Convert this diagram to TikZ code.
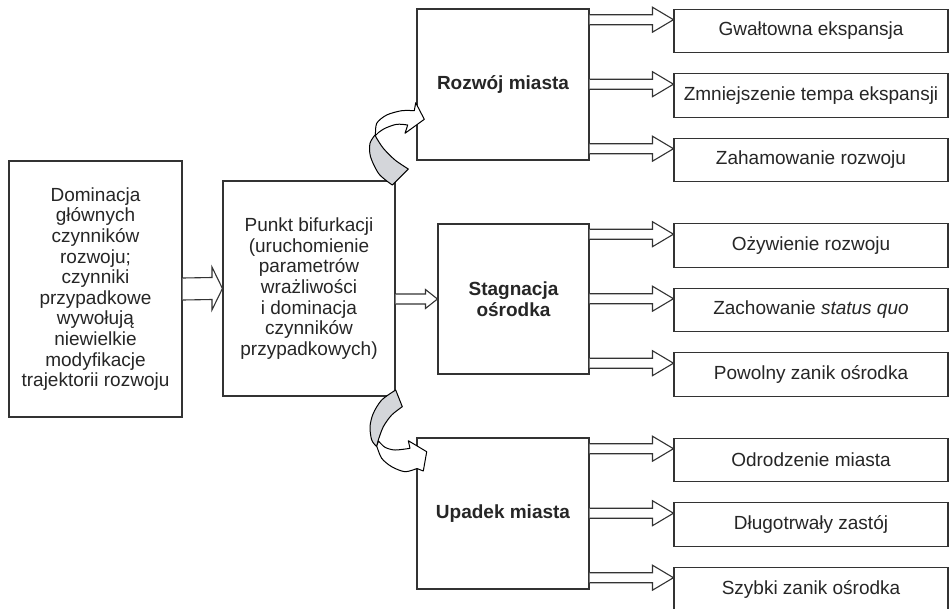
\documentclass[tikz,border=0pt]{standalone}
\usepackage{fontspec}
\setmainfont{Liberation Sans}
\usetikzlibrary{calc}
\definecolor{ribgray}{RGB}{212,214,218}
\newcommand{\hollowarrow}[5]{%
  \draw[hollow] ($(#1)+(0,-#4)$) -- ($(#2)+(-#3,-#4)$) -- ($(#2)+(-#3,-#5)$) -- (#2)
    -- ($(#2)+(-#3,#5)$) -- ($(#2)+(-#3,#4)$) -- ($(#1)+(0,#4)$);}
\newcommand{\outarrow}[2]{%
  \coordinate (tip) at ([yshift=-11pt]#2.north west);
  \hollowarrow{#1.east |- tip}{tip}{21}{5}{12.5}}
\begin{document}
\begin{tikzpicture}[x=1pt, y=-1pt,
    box/.style={draw=black!80, line width=1.1pt, fill=white, inner sep=2pt, align=center,
      text=black!85, font=\fontsize{19}{20.6}\selectfont},
    stage/.style={box, font=\fontsize{19}{20.6}\selectfont\bfseries},
    result/.style={box, minimum width=274pt, minimum height=43.5pt},
    hollow/.style={draw=black!80, line width=1.1pt, fill=white},
    ribbon/.style={draw=black, line width=1pt, line join=round}]
    \useasboundingbox (0,0) rectangle (949,608);

    \node[box, minimum width=173pt, minimum height=256pt] (left) at (95.5,289)
        {Dominacja\\głównych\\czynników\\rozwoju;\\czynniki\\przypadkowe\\wywołują\\niewielkie\\modyfikacje\\trajektorii rozwoju};
    \node[box, minimum width=172pt, minimum height=215pt] (bif) at (309,288.5)
        {Punkt bifurkacji\\(uruchomienie\\parametrów\\wrażliwości\\i dominacja\\czynników\\przypadkowych)};

    \node[stage, minimum width=172pt, minimum height=151pt] (rozwoj) at (503,84.5) {Rozwój miasta};
    \node[stage, minimum width=151pt, minimum height=150pt] (stag) at (513.5,299) {Stagnacja\\ośrodka};
    \node[stage, minimum width=172pt, minimum height=151pt] (upadek) at (503,513.5) {Upadek miasta};

    \node[result] (g1) at (811,31) {Gwałtowna ekspansja};
    \node[result] (g2) at (811,95.5) {Zmniejszenie tempa ekspansji};
    \node[result] (g3) at (811,160) {Zahamowanie rozwoju};
    \node[result] (s1) at (811,245.5) {Ożywienie rozwoju};
    \node[result] (s2) at (811,310) {Zachowanie \textit{status quo}};
    \node[result] (s3) at (811,374.5) {Powolny zanik ośrodka};
    \node[result] (u1) at (811,460) {Odrodzenie miasta};
    \node[result] (u2) at (811,524.5) {Długotrwały zastój};
    \node[result] (u3) at (811,589) {Szybki zanik ośrodka};

    \hollowarrow{left.east}{bif.west}{10.5}{11}{21.5}
    \hollowarrow{bif.east |- stag.west}{stag.west}{12}{5}{9.5}

    \outarrow{rozwoj}{g1}
    \outarrow{rozwoj}{g2}
    \outarrow{rozwoj}{g3}
    \outarrow{stag}{s1}
    \outarrow{stag}{s2}
    \outarrow{stag}{s3}
    \outarrow{upadek}{u1}
    \outarrow{upadek}{u2}
    \outarrow{upadek}{u3}

    \draw[ribbon, fill=ribgray] plot[smooth] coordinates {(375,135) (370,143.3) (370.5,156.7) (379,174) (392.3,185)}
        -- plot[smooth] coordinates {(408.3,169) (395,160) (383.3,148.3) (376.7,138.3)} -- cycle;
    \draw[ribbon, fill=white] plot[smooth] coordinates {(375.5,135.5) (376.7,123.3) (386.7,115) (401.7,110.7) (414.3,110.7)}
        -- (415.7,102.7) -- (424.3,119.3) -- (405,133.3)
        -- plot[smooth] coordinates {(407.7,125) (396.7,124.3) (385,128.3) (378.3,132.7)} -- cycle;

    \draw[ribbon, fill=ribgray] plot[smooth] coordinates {(395.7,390) (381.7,400) (373.3,413.3) (370,426.7) (371.7,440) (376.7,446.7)}
        -- plot[smooth] coordinates {(378.3,440) (383.3,426.7) (391.7,415) (402.3,406.7)} -- cycle;
    \draw[ribbon, fill=white] plot[smooth] coordinates {(376.7,446) (381.7,458.3) (391.7,466.7) (405,471.7) (417,468.5)}
        -- (423.3,471) -- (426.7,451.7) -- (408.3,440.7)
        -- plot[smooth] coordinates {(410,448.3) (395,450) (385,447.3) (378.5,441)} -- cycle;
\end{tikzpicture}
\end{document}
